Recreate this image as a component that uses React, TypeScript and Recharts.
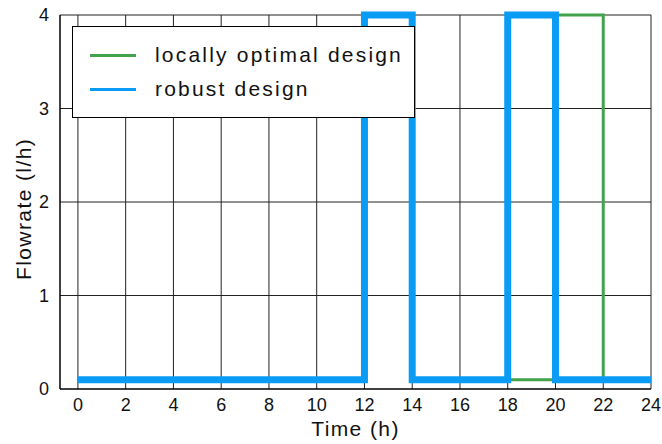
import { LineChart, Line, XAxis, YAxis, CartesianGrid } from 'recharts'

const xTicks = [0, 2, 4, 6, 8, 10, 12, 14, 16, 18, 20, 22, 24]
const yTicks = [0, 1, 2, 3, 4]

// switching times (h) and flowrate (l/h) held from that time on
const localTime = [0, 12, 14, 20, 22, 24]
const localFlow = [0.1, 4, 0.1, 4, 0.1, 0.1]
const robustTime = [0, 12, 14, 18, 20, 24]
const robustFlow = [0.1, 4, 0.1, 4, 0.1, 0.1]

const localData = localTime.map((t, i) => ({ t, v: localFlow[i] }))
const robustData = robustTime.map((t, i) => ({ t, v: robustFlow[i] }))

const GREEN = '#43a34c'
const BLUE = '#0a9cf5'
const FONT = '"Liberation Sans", Arial, sans-serif'

const legendItems = [
  { label: 'locally optimal design', color: GREEN },
  { label: 'robust design', color: BLUE },
]

function LegendBox() {
  return (
    <div style={{
      position: 'absolute', left: 72, top: 26,
      background: '#fff', border: '1.5px solid #000', width: 343, height: 92,
      boxSizing: 'border-box', fontFamily: FONT, fontSize: 21, letterSpacing: 2.2,
      paddingTop: 11,
    }}>
      {legendItems.map(it => (
        <div key={it.label} style={{ display: 'flex', alignItems: 'center', height: 34 }}>
          <span style={{ display: 'inline-block', width: 46, height: 3, background: it.color, marginLeft: 17, marginRight: 19 }} />
          <span style={{ color: '#111' }}>{it.label}</span>
        </div>
      ))}
    </div>
  )
}

export default function App() {
  return (
    <div style={{ position: 'absolute', left: 0, top: 0, width: 662, height: 444, background: '#fff' }}>
      <LineChart width={662} height={444} margin={{ top: 15, right: 11, bottom: 0, left: 0 }}>
        <CartesianGrid stroke="#222" strokeWidth={1} horizontalValues={[1, 2, 3, 4]} verticalValues={xTicks} />
        <XAxis
          type="number"
          dataKey="t"
          domain={[-0.75, 24]}
          ticks={xTicks}
          allowDataOverflow
          height={55}
          tickLine={false}
          axisLine={{ stroke: '#000', strokeWidth: 1.5 }}
          tick={{ fontSize: 18, fill: '#111', fontFamily: FONT }}
          tickMargin={3}
          label={{ value: 'Time (h)', position: 'insideBottom', offset: 8, fontSize: 21, fill: '#111', fontFamily: FONT, letterSpacing: 1.4 }}
        />
        <YAxis
          type="number"
          domain={[0, 4]}
          ticks={yTicks}
          width={60}
          tickLine={false}
          axisLine={{ stroke: '#000', strokeWidth: 1.5 }}
          tick={{ fontSize: 18, fill: '#111', fontFamily: FONT }}
          tickMargin={5}
          label={{ value: 'Flowrate (l/h)', angle: -90, position: 'insideLeft', offset: 24, dy: 78, fontSize: 21, fill: '#111', fontFamily: FONT, letterSpacing: 1.4 }}
        />
        <Line data={localData} dataKey="v" type="stepAfter" stroke={GREEN} strokeWidth={3} dot={false} isAnimationActive={false} name="locally optimal design" />
        <Line data={robustData} dataKey="v" type="stepAfter" stroke={BLUE} strokeWidth={7} dot={false} isAnimationActive={false} name="robust design" />
      </LineChart>
      <LegendBox />
    </div>
  )
}
